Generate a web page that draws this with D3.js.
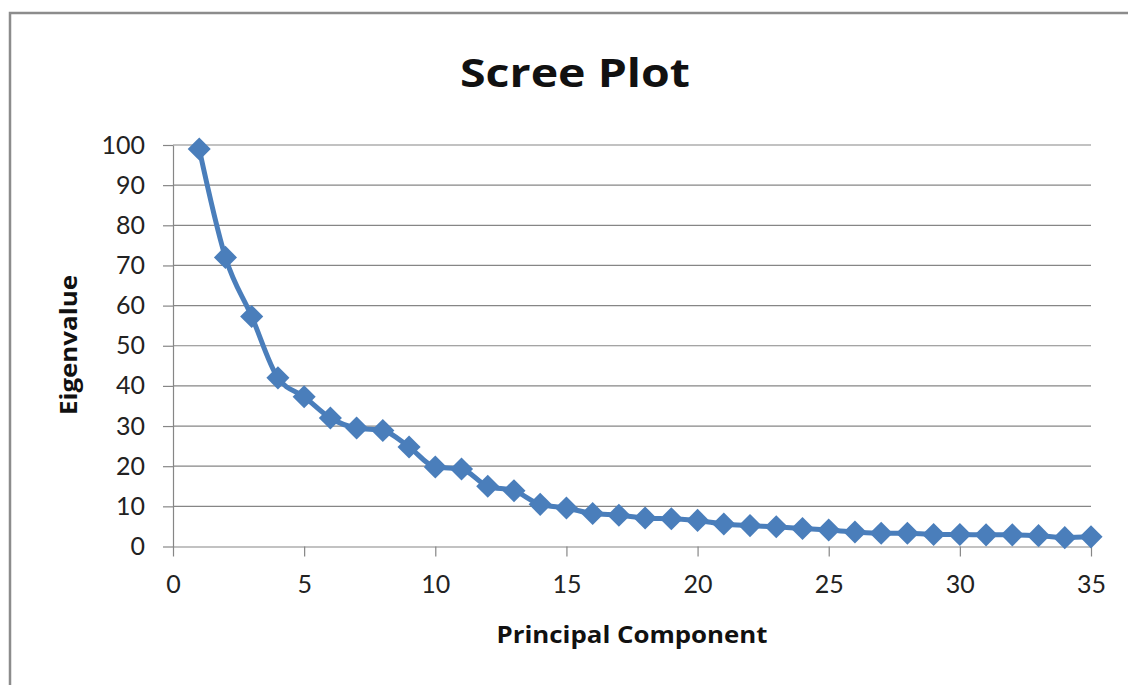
<!DOCTYPE html>
<html lang="en">
<head>
    <meta charset="UTF-8">
    <title>Scree Plot</title>
    <script src="https://d3js.org/d3.v7.min.js"></script>
    <style>
        body{
            margin: 0;
            background: white;
        }
        text{
            font-family: "Open Sans", Lato, sans-serif;
        }
    </style>
</head>
<body>

<script>
    // eigenvalues, component 1..35
    const components = d3.range(1, 36)
    const eigenvalues = [99, 72, 57.3, 42, 37.3, 32, 29.5, 28.9, 24.8, 19.8,
        19.3, 15, 13.9, 10.5, 9.6, 8.2, 7.8, 7.1, 6.9, 6.5,
        5.6, 5.2, 4.9, 4.5, 4.1, 3.6, 3.3, 3.3, 3.0, 3.0,
        2.9, 2.9, 2.7, 2.2, 2.4]
    const xTicks = [0, 5, 10, 15, 20, 25, 30, 35]
    const yTicks = [0, 10, 20, 30, 40, 50, 60, 70, 80, 90, 100]

    const points = components.map((c, i) => ({pc: c, ev: eigenvalues[i]}))

    const svg = d3.select("body").append("svg")
        .attr("width", 1128)
        .attr("height", 685)

    // chart frame (runs off the right and bottom edge)
    svg.append("rect")
        .attr("x", 10).attr("y", 13)
        .attr("width", 1140).attr("height", 700)
        .attr("fill", "white")
        .attr("stroke", "#8c8c8c")
        .attr("stroke-width", 2.5)

    const x = d3.scaleLinear().domain([0, 35]).range([173, 1091])
    const y = d3.scaleLinear().domain([0, 100]).range([546.5, 145])

    // gridlines
    svg.append("g")
        .selectAll("line")
        .data(yTicks.filter(d => d > 0))
        .enter()
        .append("line")
        .attr("x1", x(0)).attr("x2", x(35))
        .attr("y1", d => y(d)).attr("y2", d => y(d))
        .attr("stroke", "#868686")
        .attr("stroke-width", 1.2)

    const yAxis = svg.append("g")
        .attr("transform", `translate(${x(0)},0)`)
        .call(d3.axisLeft(y).tickValues(yTicks).tickSize(10).tickPadding(18).tickSizeOuter(0))
    const xAxis = svg.append("g")
        .attr("transform", `translate(0,${y(0)})`)
        .call(d3.axisBottom(x).tickValues(xTicks).tickSize(10).tickPadding(19).tickSizeOuter(0))

    for (const ax of [yAxis, xAxis]) {
        ax.select(".domain").attr("stroke", "#868686").attr("stroke-width", 1.2)
        ax.selectAll(".tick line").attr("stroke", "#868686").attr("stroke-width", 1.2)
        ax.selectAll(".tick text")
            .attr("fill", "#222")
            .style("font-size", "25px")
            .style("font-family", "Lato, sans-serif")
    }

    // series
    svg.append("path")
        .datum(points)
        .attr("d", d3.line().x(d => x(d.pc)).y(d => y(d.ev)).curve(d3.curveMonotoneX))
        .attr("fill", "none")
        .attr("stroke", "#4a7ebb")
        .attr("stroke-width", 5)
        .attr("stroke-linejoin", "round")

    svg.append("g")
        .selectAll("path")
        .data(points)
        .enter()
        .append("path")
        .attr("d", d3.symbol().type(d3.symbolDiamond2).size(340))
        .attr("transform", d => `translate(${x(d.pc)},${y(d.ev)})`)
        .attr("fill", "#4a7ebb")

    // titles
    svg.append("text")
        .attr("x", 575).attr("y", 87)
        .attr("text-anchor", "middle")
        .attr("textLength", 230)
        .attr("lengthAdjust", "spacingAndGlyphs")
        .style("font-size", "40px")
        .style("font-weight", "bold")
        .attr("fill", "#111")
        .text("Scree Plot")

    svg.append("text")
        .attr("x", 632).attr("y", 643)
        .attr("text-anchor", "middle")
        .attr("textLength", 271)
        .attr("lengthAdjust", "spacingAndGlyphs")
        .style("font-size", "23px")
        .style("font-weight", "bold")
        .attr("fill", "#111")
        .text("Principal Component")

    svg.append("text")
        .attr("transform", "translate(77,345) rotate(-90)")
        .attr("text-anchor", "middle")
        .attr("textLength", 140)
        .attr("lengthAdjust", "spacingAndGlyphs")
        .style("font-size", "23px")
        .style("font-weight", "bold")
        .attr("fill", "#111")
        .text("Eigenvalue")
</script>
</body>
</html>
